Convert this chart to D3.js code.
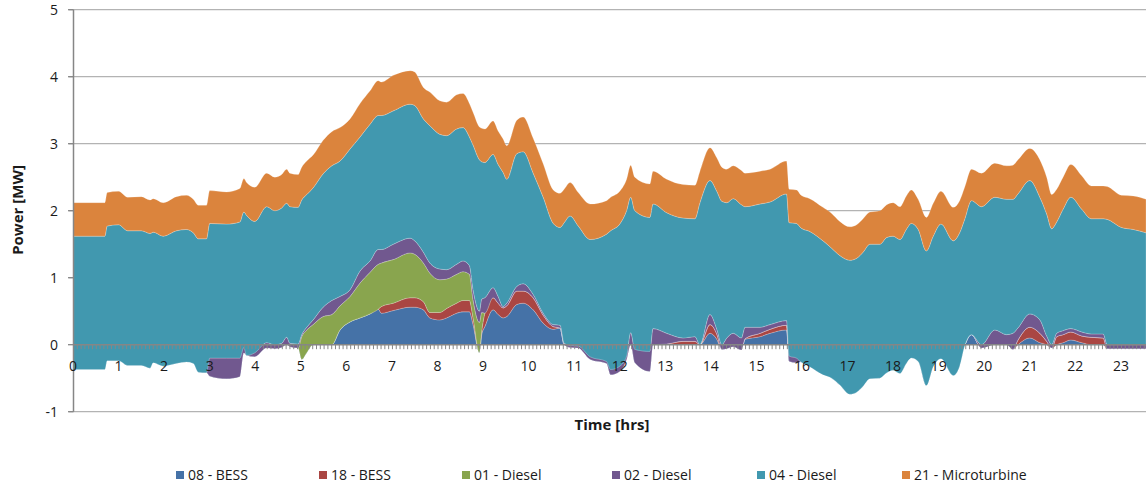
<!DOCTYPE html>
<html>
<head>
<meta charset="utf-8">
<script src="https://cdn.jsdelivr.net/npm/d3@7/dist/d3.min.js"></script>
<style>
  html, body { margin: 0; padding: 0; background: #fff; }
  svg { display: block; font-family: "Open Sans", Lato, sans-serif; }
</style>
</head>
<body>
<svg id="chart" width="1146" height="486"></svg>
<script>
// Sample times (hours) shared by every series
const hours = [0, 0.7, 0.75, 1.0, 1.2, 1.5, 1.69, 1.76, 1.98, 2.27, 2.49, 2.64, 2.75, 2.93, 3.0, 3.37, 3.66, 3.75, 3.81, 3.99,
  4.25, 4.43, 4.58, 4.69, 4.76, 4.94, 5.02, 5.13, 5.27, 5.49, 5.68, 5.86, 6.08, 6.30, 6.52, 6.70, 6.77, 7.03, 7.40, 7.50,
  7.69, 7.83, 8.05, 8.20, 8.42, 8.56, 8.70, 8.78, 8.92, 8.97, 9.04, 9.22, 9.33, 9.44, 9.52, 9.74, 9.88, 10.10, 10.32, 10.54,
  10.69, 10.78, 10.91, 11.09, 11.35, 11.71, 11.80, 12.00, 12.15, 12.24, 12.33, 12.66, 12.73, 13.03, 13.39, 13.65, 13.76, 13.98, 14.13, 14.24,
  14.35, 14.49, 14.67, 14.75, 15.08, 15.30, 15.66, 15.72, 15.88, 15.98, 16.17, 16.46, 16.65, 16.83, 17.05, 17.20, 17.34, 17.49, 17.71, 17.86,
  18.00, 18.15, 18.29, 18.40, 18.55, 18.73, 18.88, 19.05, 19.32, 19.46, 19.57, 19.72, 19.94, 20.23, 20.49, 20.63, 20.74, 21.00, 21.22, 21.37,
  21.48, 21.59, 21.73, 21.90, 22.14, 22.35, 22.61, 22.70, 23.01, 23.27, 23.55];

// Power output per unit (MW)
const bess08 = [-0.37, -0.37, -0.24, -0.24, -0.31, -0.31, -0.35, -0.27, -0.32, -0.28, -0.26, -0.28, -0.41, -0.42, -0.47, -0.51, -0.48, -0.12, -0.16, -0.18,
  -0.05, -0.06, -0.04, 0, -0.03, -0.05, -0.22, -0.12, 0, 0, 0, 0.22, 0.34, 0.40, 0.46, 0.53, 0.47, 0.51, 0.56, 0.56,
  0.52, 0.40, 0.37, 0.40, 0.47, 0.49, 0.49, 0.30, -0.12, 0.15, 0.27, 0.52, 0.45, 0.40, 0.42, 0.60, 0.62, 0.52, 0.32, 0.23,
  0.25, 0, -0.04, -0.05, -0.22, -0.28, -0.45, -0.40, -0.22, 0, -0.27, -0.40, 0, 0, 0, 0, 0, 0.17, 0.08, -0.07,
  -0.06, -0.03, -0.08, 0.08, 0.12, 0.17, 0.22, -0.25, -0.27, -0.26, -0.33, -0.45, -0.50, -0.60, -0.74, -0.71, -0.62, -0.51, -0.50, -0.42,
  -0.38, -0.43, -0.28, -0.20, -0.25, -0.61, -0.33, -0.21, -0.46, -0.32, -0.02, 0.15, -0.05, 0, 0, -0.07, 0, 0.10, 0.03, 0,
  -0.05, 0, 0.03, 0.07, 0.03, 0, 0, -0.06, -0.06, -0.06, -0.06];

const bess18 = [0, 0, 0, 0, 0, 0, 0, 0, 0, 0, 0, 0, 0, 0, 0, 0, 0, 0, 0, 0,
  0, 0, 0, 0, 0, 0, 0, 0, 0, 0, 0, 0, 0, 0, 0, 0, 0.10, 0.11, 0.14, 0.14,
  0.12, 0.08, 0.11, 0.14, 0.15, 0.17, 0.17, 0.10, 0, 0.05, 0.20, 0.18, 0.17, 0.15, 0.16, 0.20, 0.18, 0.18, 0.12, 0.04,
  0, 0, 0, 0, 0, 0, 0, 0, 0, 0, 0, 0, 0, 0.01, 0.05, 0.05, 0, 0.13, 0.08, 0,
  0, 0, 0, 0.01, 0.05, 0.06, 0.07, 0, 0, 0, 0, 0, 0, 0, 0, 0, 0, 0, 0, 0,
  0, 0, 0, 0, 0, 0, 0, 0, 0, 0, 0, 0, 0, 0, 0, 0, 0.07, 0.16, 0.14, 0.05,
  0, 0.12, 0.12, 0.12, 0.10, 0.11, 0.10, 0, 0, 0, 0];

const diesel01 = [0, 0, 0, 0, 0, 0, 0, 0, 0, 0, 0, 0, 0, 0, 0, 0, 0, 0, 0, 0,
  0, 0, 0, 0, 0, 0, 0.34, 0.34, 0.30, 0.42, 0.45, 0.36, 0.38, 0.52, 0.62, 0.67, 0.65, 0.65, 0.67, 0.65,
  0.58, 0.59, 0.49, 0.44, 0.43, 0.43, 0.39, 0.27, 0.45, 0.28, 0, 0, 0, 0, 0, 0, 0, 0, 0, 0,
  0, 0, 0, 0, 0, 0, 0, 0, 0, 0, 0, 0, 0, 0, 0, 0, 0, 0, 0, 0,
  0, 0, 0, 0, 0, 0, 0, 0, 0, 0, 0, 0, 0, 0, 0, 0, 0, 0, 0, 0,
  0, 0, 0, 0, 0, 0, 0, 0, 0, 0, 0, 0, 0, 0, 0, 0, 0, 0, 0, 0,
  0, 0, 0, 0, 0, 0, 0, 0, 0, 0, 0];

const diesel02 = [0, 0, 0, 0, 0, 0, 0, 0, 0, 0, 0, 0, 0, 0, 0.27, 0.31, 0.28, 0.08, 0, 0.06,
  0.08, 0.06, 0.06, 0.11, 0.05, 0.06, 0.03, 0.04, 0.07, 0.14, 0.21, 0.14, 0.10, 0.18, 0.17, 0.22, 0.20, 0.23, 0.22, 0.20,
  0.16, 0.15, 0.16, 0.14, 0.15, 0.16, 0.13, 0.15, 0.17, 0.20, 0.23, 0.15, 0.10, 0.02, 0.04, 0.07, 0.11, 0.05, 0.03, 0.03,
  0.04, 0.02, 0.03, 0.03, 0.04, 0.03, 0.08, 0.08, 0.05, 0.18, 0.20, 0.30, 0.24, 0.16, 0.05, 0.07, 0, 0.15, 0.07, 0.07,
  0.16, 0.20, 0.18, 0.17, 0.09, 0.07, 0.07, 0.08, 0.07, 0, 0, 0, 0, 0, 0, 0, 0, 0, 0, 0,
  0, 0, 0, 0, 0, 0, 0, 0, 0, 0, 0, 0, 0.05, 0.22, 0.15, 0.24, 0.18, 0.20, 0.20, 0.08,
  0.05, 0.05, 0.06, 0.05, 0.06, 0.05, 0.06, 0.06, 0.06, 0.06, 0.06];

const diesel04 = [1.99, 1.99, 2.01, 2.03, 2.01, 2.01, 2.01, 1.95, 1.94, 1.98, 1.98, 1.95, 1.99, 2.00, 2.01, 2.00, 2.03, 2.02, 2.09, 1.96,
  2.03, 2.00, 2.02, 2.00, 2.04, 2.04, 2.01, 1.98, 1.97, 1.99, 2.01, 2.02, 2.10, 2.00, 2.04, 2.00, 2.00, 1.99, 2.00, 2.02,
  1.99, 2.05, 2.01, 2.00, 2.02, 1.99, 1.92, 2.16, 2.26, 2.05, 2.02, 1.99, 1.97, 2.00, 1.85, 1.98, 1.97, 1.81, 1.73, 1.51,
  1.46, 1.80, 1.93, 1.79, 1.75, 1.90, 2.07, 2.12, 2.17, 2.02, 2.07, 2.00, 1.86, 1.80, 1.79, 1.76, 2.12, 2.00, 2.06, 2.14,
  2.02, 2.01, 1.99, 1.80, 1.84, 1.83, 1.89, 1.99, 2.01, 2.00, 2.02, 2.00, 1.94, 1.93, 2.00, 2.00, 2.00, 2.01, 2.00, 2.02,
  2.00, 2.00, 2.00, 2.01, 1.97, 2.01, 1.95, 2.01, 2.01, 1.99, 1.89, 2.00, 2.06, 1.98, 2.02, 2.00, 2.00, 1.99, 1.83, 1.82,
  1.73, 1.66, 1.81, 1.96, 1.83, 1.72, 1.72, 1.87, 1.75, 1.72, 1.67];

const micro21 = [0.50, 0.50, 0.50, 0.50, 0.50, 0.51, 0.50, 0.50, 0.50, 0.51, 0.51, 0.50, 0.50, 0.50, 0.49, 0.48, 0.50, 0.50, 0.49, 0.51,
  0.50, 0.50, 0.50, 0.51, 0.50, 0.49, 0.49, 0.50, 0.49, 0.50, 0.51, 0.50, 0.45, 0.50, 0.50, 0.52, 0.50, 0.53, 0.50, 0.50,
  0.47, 0.50, 0.50, 0.50, 0.51, 0.51, 0.50, 0.49, 0.49, 0.50, 0.50, 0.50, 0.50, 0.50, 0.50, 0.50, 0.52, 0.52, 0.50, 0.50,
  0.51, 0.50, 0.50, 0.50, 0.53, 0.50, 0.50, 0.49, 0.47, 0.48, 0.50, 0.50, 0.49, 0.50, 0.50, 0.50, 0.47, 0.49, 0.50, 0.51,
  0.50, 0.49, 0.51, 0.50, 0.49, 0.49, 0.49, 0.50, 0.50, 0.49, 0.49, 0.50, 0.52, 0.51, 0.50, 0.50, 0.50, 0.48, 0.50, 0.49,
  0.50, 0.49, 0.50, 0.50, 0.45, 0.50, 0.49, 0.49, 0.50, 0.48, 0.48, 0.47, 0.50, 0.51, 0.50, 0.51, 0.51, 0.48, 0.56, 0.55,
  0.51, 0.49, 0.48, 0.49, 0.50, 0.49, 0.49, 0.49, 0.48, 0.50, 0.50];

const seriesNames = ["08 - BESS", "18 - BESS", "01 - Diesel", "02 - Diesel", "04 - Diesel", "21 - Microturbine"];
const seriesColors = ["#4572A7", "#AA4643", "#89A54E", "#71588F", "#4198AF", "#DB843D"];
const yTicks = [-1, 0, 1, 2, 3, 4, 5];
const hourLabels = d3.range(0, 24);

const seriesValues = [bess08, bess18, diesel01, diesel02, diesel04, micro21];
const rows = hours.map((t, i) => {
  const r = { t };
  seriesNames.forEach((k, j) => { r[k] = seriesValues[j][i]; });
  return r;
});

const svg = d3.select("#chart");
const x = d3.scaleLinear().domain([0, 23.55]).range([73, 1146]);
const y = d3.scaleLinear().domain([-1, 5]).range([411.7, 9.7]);
const labelSize = 14;
const titleSize = 15;

// horizontal gridlines
svg.append("g").selectAll("line")
  .data(yTicks.filter(v => v !== 0))
  .join("line")
  .attr("x1", 69).attr("x2", 1146)
  .attr("y1", d => y(d)).attr("y2", d => y(d))
  .attr("stroke", "#b3b3b3").attr("stroke-width", 1.3);

// stacked areas: each series sits on the running total of the ones before it
const stack = d3.stack().keys(seriesNames).order(d3.stackOrderNone).offset(d3.stackOffsetNone);
const layers = stack(rows);
const area = d3.area()
  .curve(d3.curveMonotoneX)
  .x(d => x(d.data.t))
  .y0(d => y(d[0]))
  .y1(d => y(d[1]));

svg.append("g").selectAll("path")
  .data(layers)
  .join("path")
  .attr("d", area)
  .attr("fill", (d, i) => seriesColors[i])
  .attr("stroke", "rgba(255,255,255,0.35)")
  .attr("stroke-width", 0.6);

// y axis
const yAxis = svg.append("g");
yAxis.append("line")
  .attr("x1", 73.5).attr("x2", 73.5).attr("y1", y(5)).attr("y2", y(-1))
  .attr("stroke", "#868686").attr("stroke-width", 1.5);
yAxis.selectAll("line.tick")
  .data(yTicks).join("line").attr("class", "tick")
  .attr("x1", 68).attr("x2", 73.5)
  .attr("y1", d => y(d)).attr("y2", d => y(d))
  .attr("stroke", "#868686").attr("stroke-width", 1.3);
yAxis.selectAll("text")
  .data(yTicks).join("text")
  .attr("x", 58).attr("y", d => y(d))
  .attr("dy", "0.35em")
  .attr("text-anchor", "end")
  .attr("font-size", labelSize)
  .attr("fill", "#1a1a1a")
  .text(d => d);

// x axis along zero, with 5-minute tick marks
const xAxis = svg.append("g");
xAxis.append("line")
  .attr("x1", 73).attr("x2", 1146).attr("y1", y(0)).attr("y2", y(0))
  .attr("stroke", "#868686").attr("stroke-width", 1.5);
xAxis.selectAll("line.tick")
  .data(d3.range(0, 283).map(i => i / 12))
  .join("line").attr("class", "tick")
  .attr("x1", d => x(d) + 0.5).attr("x2", d => x(d) + 0.5)
  .attr("y1", y(0)).attr("y2", y(0) + 4.5)
  .attr("stroke", "#868686").attr("stroke-width", 1);
xAxis.selectAll("text")
  .data(hourLabels).join("text")
  .attr("x", d => x(d)).attr("y", 366)
  .attr("dy", "0.35em")
  .attr("text-anchor", "middle")
  .attr("font-size", labelSize)
  .attr("fill", "#1a1a1a")
  .text(d => d);

// axis titles
svg.append("text")
  .attr("transform", "translate(18,210) rotate(-90)")
  .attr("text-anchor", "middle")
  .attr("dy", "0.35em")
  .attr("font-size", titleSize).attr("font-weight", "bold")
  .attr("fill", "#1a1a1a")
  .text("Power [MW]");
svg.append("text")
  .attr("x", 612).attr("y", 425)
  .attr("dy", "0.35em")
  .attr("text-anchor", "middle")
  .attr("font-size", titleSize).attr("font-weight", "bold")
  .attr("fill", "#1a1a1a")
  .text("Time [hrs]");

// legend
const legendX = [176, 319, 462, 612, 757, 902];
const legend = svg.append("g").selectAll("g")
  .data(seriesNames).join("g")
  .attr("transform", (d, i) => `translate(${legendX[i]},471)`);
legend.append("rect")
  .attr("width", 8).attr("height", 8)
  .attr("fill", (d, i) => seriesColors[i]);
legend.append("text")
  .attr("x", 12).attr("y", 4).attr("dy", "0.35em")
  .attr("font-size", labelSize)
  .attr("fill", "#1a1a1a")
  .text(d => d);
</script>
</body>
</html>
